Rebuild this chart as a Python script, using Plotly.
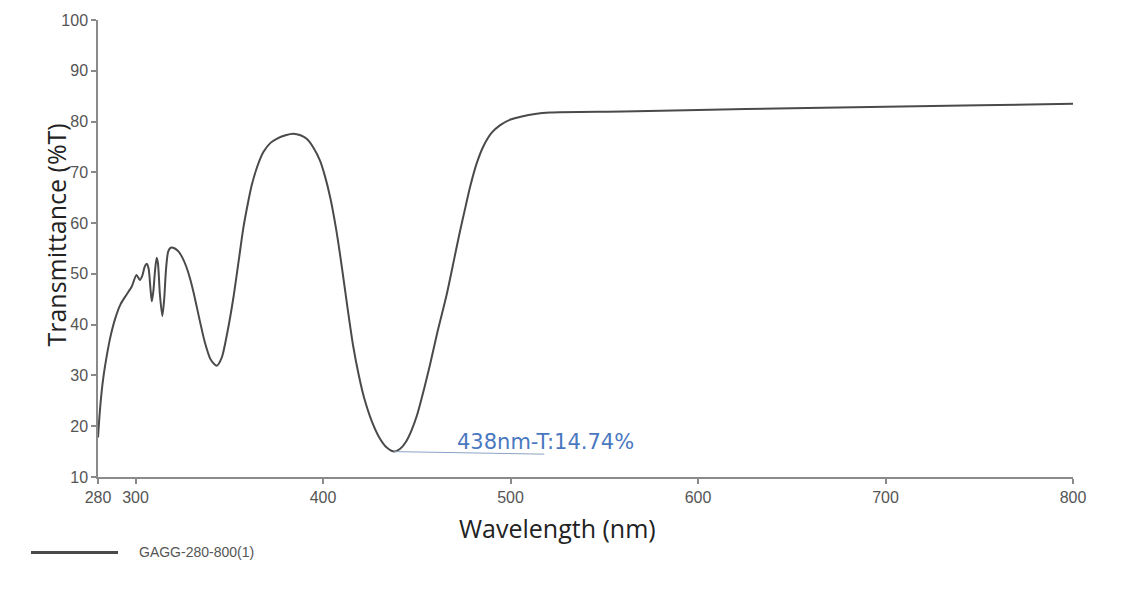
import plotly.graph_objects as go

# Data
wavelength = [280, 281, 282, 283, 284.5, 286.5, 289, 292, 295, 298, 300.5, 302.3, 303.5, 305, 306,
              307, 308, 308.7, 309.5, 310.5, 311.3, 312, 313, 314.3, 315.3, 316.3, 317.5, 319, 321,
              323, 325, 327, 329, 331, 334.4, 337, 340, 343.3, 346, 349, 352.2, 355, 357.5, 360,
              362, 365, 368.2, 372, 375.3, 380, 384.2, 388, 391.3, 395, 398.4, 401, 404, 407,
              410, 413, 416, 419, 422, 426, 430, 434, 438, 441, 444, 447, 450, 454, 457, 461, 466,
              470, 473, 476, 478.5, 482, 485.5, 490, 494.5, 500, 506, 513, 521, 560, 600, 650,
              700, 750, 800]
transmittance = [17.8, 23, 27, 30, 33.5, 37.4, 41, 44, 45.8, 47.5, 49.8, 48.8, 49.5, 51.5, 52,
                 51, 47, 44.6, 46.5, 51, 53.2, 52, 46, 41.7, 45, 51, 54.5, 55.2, 55.0,
                 54.4, 53.2, 51.5, 49.2, 46.3, 40.6, 36.5, 33.2, 31.9, 33.5, 38.5, 45.3, 52.5, 59, 64,
                 67.5, 71.2, 74, 75.8, 76.6, 77.3, 77.6, 77.3, 76.6, 74.8, 72.3, 69.3, 64.8, 58.8,
                 51.5, 43.5, 36, 30.2, 25.5, 21, 17.8, 15.8, 15.0, 15.5, 16.8, 19, 22, 27.5, 32, 38.5, 46,
                 53, 58.3, 63.2, 67.2, 71.8, 75.1, 77.8, 79.3, 80.4, 81, 81.5, 81.8, 82.0, 82.3, 82.6,
                 82.9, 83.2, 83.5]

x_ticks = [280, 300, 400, 500, 600, 700, 800]
y_ticks = [10, 20, 30, 40, 50, 60, 70, 80, 90, 100]
series_name = "GAGG-280-800(1)"
min_label = "438nm-T:14.74%"
min_point = (438, 15.0)
leader_end = (518, 14.5)
label_pos = (470.4, 16.8)

fig = go.Figure()
fig.add_trace(go.Scatter(
    x=wavelength, y=transmittance, mode="lines", name=series_name,
    line=dict(color="#4a4a4a", width=2, shape="spline", smoothing=0.7),
    showlegend=False,
))

axis_common = dict(
    showgrid=False, zeroline=False, showline=True, linecolor="#8a8a8a", linewidth=1.5,
    ticks="outside", ticklen=5, tickcolor="#8a8a8a", tickwidth=1.5,
    tickfont=dict(family="Liberation Sans, Arial, sans-serif", size=16, color="#555555"),
)

fig.update_xaxes(range=[280, 800], tickvals=x_ticks, ticktext=[str(v) for v in x_ticks],
                 **axis_common)
fig.update_yaxes(range=[10, 100], tickvals=y_ticks, ticktext=[str(v) for v in y_ticks],
                 **axis_common)

# leader line to the minimum label
fig.add_shape(type="line", xref="x", yref="y",
              x0=min_point[0], y0=min_point[1], x1=leader_end[0], y1=leader_end[1],
              line=dict(color="#8aa3c4", width=1))

annotations = [
    dict(text=min_label, xref="x", yref="y", x=label_pos[0], y=label_pos[1],
         xanchor="left", yanchor="middle", showarrow=False,
         font=dict(family="DejaVu Sans, sans-serif", size=21, color="#4a78c0")),
    dict(text="Wavelength (nm)", xref="paper", yref="paper", x=(557 - 98) / 975, y=(477 - 528) / 460,
         xanchor="center", yanchor="middle", showarrow=False,
         font=dict(family="Open Sans, sans-serif", size=25, color="#222222")),
    dict(text="Transmittance (%T)", xref="paper", yref="paper", x=(56 - 98) / 975, y=(477 - 234) / 460,
         xanchor="center", yanchor="middle", showarrow=False, textangle=-90,
         font=dict(family="Open Sans, sans-serif", size=25, color="#222222")),
    dict(text=series_name, xref="paper", yref="paper", x=(137 - 98) / 975, y=(477 - 552) / 460,
         xanchor="left", yanchor="middle", showarrow=False,
         font=dict(family="Liberation Sans, Arial, sans-serif", size=14, color="#555555")),
]

# legend sample line
fig.add_shape(type="line", xref="paper", yref="paper",
              x0=(31 - 98) / 975, x1=(118 - 98) / 975, y0=(477 - 553) / 460, y1=(477 - 553) / 460,
              line=dict(color="#4a4a4a", width=3))

fig.update_layout(
    width=1135, height=604,
    margin=dict(l=98, r=62, t=17, b=127),
    paper_bgcolor="white", plot_bgcolor="white",
    annotations=annotations,
    showlegend=False,
)

fig.write_html("out.html")
